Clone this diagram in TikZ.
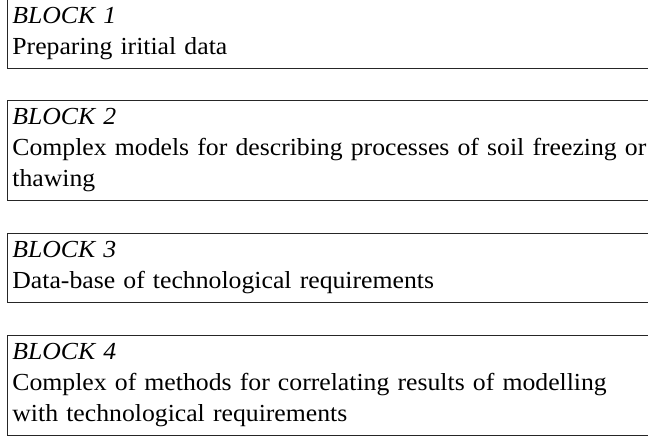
\documentclass[tikz,border=0pt]{standalone}
\usepackage{fontspec}
\setmainfont{Liberation Serif}[FakeStretch=1.05]
\usepackage{xcolor}

\tikzset{
  blockbox/.style={draw=black!85, line width=0.8pt, anchor=north west,
    text width=700pt, align=left, inner xsep=5pt, inner ysep=8pt,
    font=\fontsize{24.5}{31}\selectfont}
}

\begin{document}
\begin{tikzpicture}[x=1pt,y=-1pt]
\useasboundingbox (0,0) rectangle (648,438);
\clip (0,0) rectangle (648,438);
% the four blocks, stacked
\node[blockbox] (b1) at (7,-1) {\textit{BLOCK 1}\\ Preparing iritial data};
\node[blockbox] (b2) at (7,100) {\textit{BLOCK 2}\\ Complex models for describing processes of soil freezing or\\ thawing};
\node[blockbox] (b3) at (7,233) {\textit{BLOCK 3}\\ Data-base of technological requirements};
\node[blockbox] (b4) at (7,335) {\textit{BLOCK 4}\\ Complex of methods for correlating results of modelling\\ with technological requirements};
\end{tikzpicture}
\end{document}
